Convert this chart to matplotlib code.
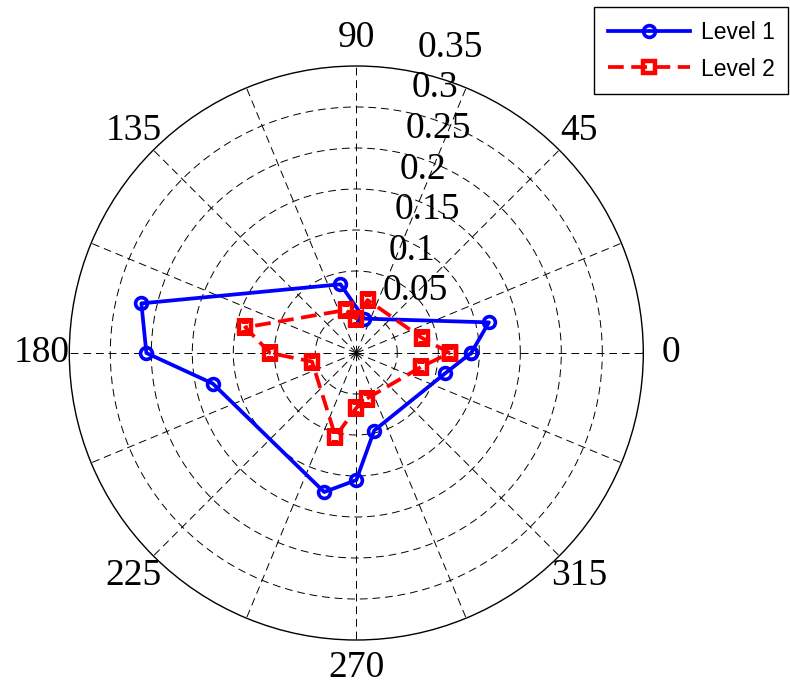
import numpy as np
import matplotlib
matplotlib.use("Agg")
import matplotlib.pyplot as plt
from matplotlib.transforms import offset_copy

# data (angles in degrees, radius in data units)
level1_theta = [0, 13, 77, 103, 167, 180, 192, 257, 270, 283, 347]
level1_r = [0.140, 0.166, 0.043, 0.086, 0.269, 0.256, 0.179, 0.174, 0.155, 0.097, 0.111]

level2_theta = [0, 13, 78, 90, 104, 167, 180, 191, 256, 270, 283, 348]
level2_r = [0.114, 0.082, 0.066, 0.042, 0.054, 0.139, 0.105, 0.055, 0.105, 0.067, 0.057, 0.081]

angle_labels = ['0', '45', '90', '135', '180', '225', '270', '315']
radial_ticks = [0.05, 0.1, 0.15, 0.2, 0.25, 0.3, 0.35]
radial_labels = ['0.05', '0.1', '0.15', '0.2', '0.25', '0.3', '0.35']

serif = 'Liberation Serif'
sans = 'Liberation Sans'

fig = plt.figure(figsize=(7.9, 6.87), dpi=100)
ax = fig.add_axes([69.3 / 790, 47 / 687, 574 / 790, 574 / 687], projection='polar')
ax.set_ylim(0, 0.35)

ax.set_xticks(np.deg2rad(np.arange(0, 360, 22.5)))
ax.set_xticklabels([])
ax.set_yticks(radial_ticks[:-1])
ax.set_yticklabels([])
ax.tick_params(length=0)
ax.grid(True, color='k', lw=0.7, linestyle=(0, (8, 5)))
ax.spines['polar'].set_linewidth(1.0)


def closed(theta, r):
    t = np.deg2rad(list(theta) + [theta[0]])
    return t, list(r) + [r[0]]


t1, r1 = closed(level1_theta, level1_r)
t2, r2 = closed(level2_theta, level2_r)

ax.plot(t1, r1, color='#0000ff', lw=2.7, marker='o', ms=8.5, mew=2.6,
        mfc='none', label='Level 1', zorder=3)
ax.plot(t2, r2, color='#ff0000', lw=2.7, linestyle=(0, (4.2, 2.0)), marker='s',
        ms=9, mew=3.2, mfc='none', label='Level 2', zorder=4)

# angle labels every 45 degrees, just outside the rim
for i, lab in enumerate(angle_labels):
    ax.text(np.deg2rad(45 * i), 0.384, lab, ha='center', va='center',
            fontsize=27, family=serif, clip_on=False)

# radial labels stacked along a ray near 82 degrees
tr = offset_copy(ax.transData, fig=fig, x=21, y=12, units='dots')
for val, lab in zip(radial_ticks, radial_labels):
    ax.text(np.deg2rad(82), val, lab, transform=tr, ha='left', va='baseline',
            fontsize=27, family=serif, clip_on=False)

leg = ax.legend(loc='upper left', bbox_to_anchor=(594 / 790, 680 / 687),
                bbox_transform=fig.transFigure, prop={'family': sans, 'size': 16.5},
                fancybox=False, edgecolor='k', framealpha=1, handlelength=3.6,
                handletextpad=0.45, borderpad=0.6, labelspacing=0.6, borderaxespad=0)
leg.get_frame().set_linewidth(1.0)

fig.savefig('out.png', dpi=100)
